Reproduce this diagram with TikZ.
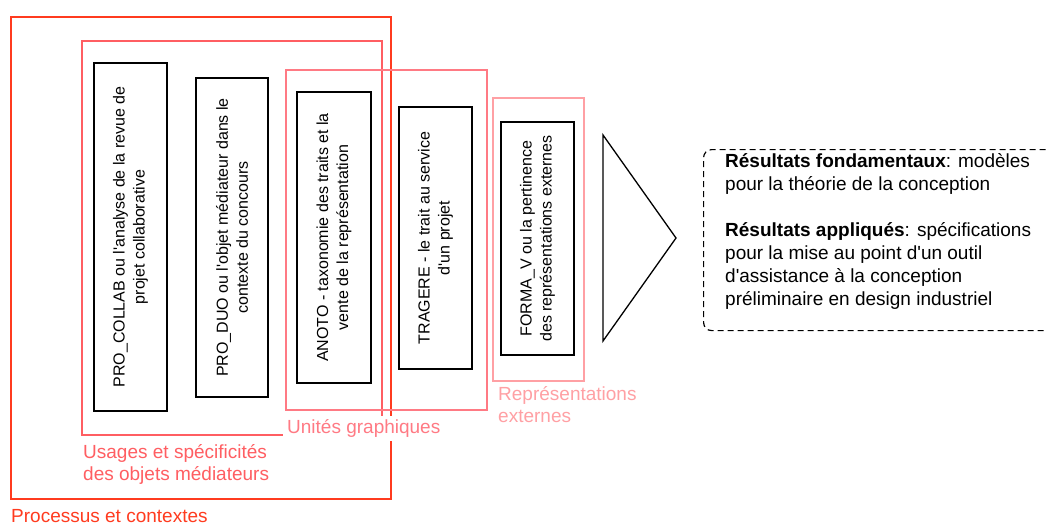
\documentclass[tikz,border=0pt]{standalone}
\usepackage{fontspec}
\setmainfont{Liberation Sans}
\usepackage{array}
\newcommand{\ap}{\textquotesingle}
\definecolor{procred}{HTML}{FF3B1F}
\definecolor{usared}{HTML}{FF5E62}
\definecolor{unitred}{HTML}{FF7A84}
\definecolor{reprred}{HTML}{FFA0A4}
\tikzset{
  zone/.style={draw, line width=1.5pt},
  zonelabel/.style={anchor=base west, fill=white, inner xsep=4pt, inner ysep=1.5pt,
    font=\fontsize{19}{22}\selectfont},
  projbox/.style={draw=black, line width=1.8pt, rotate=90, align=center,
    font=\fontsize{16}{20}\selectfont, inner sep=0pt},
  resbox/.style={draw=black, line width=1.2pt, dash pattern=on 6pt off 4pt,
    rounded corners=8pt, anchor=north west},
  restext/.style={anchor=base west, inner sep=0pt, font=\fontsize{19}{23}\selectfont}
}
\begin{document}
\begin{tikzpicture}[x=1pt,y=-1pt]
\useasboundingbox (0,0) rectangle (1047,525);
\clip (0,0) rectangle (1047,525);

% nested research areas
\draw[zone, procred] (11,17) rectangle (391,499);
\draw[zone, usared]  (82,41) rectangle (382,435);
\draw[zone, unitred] (286,70) rectangle (487,410);
\draw[zone, reprred] (493,98) rectangle (584,381);

% projects
\node[projbox, minimum width=348pt, minimum height=73pt] (collab) at (130.5,237)
  {PRO\_COLLAB ou l\ap analyse de la revue de\\projet collaborative};
\node[projbox, minimum width=319pt, minimum height=72pt] (duo) at (232,237.5)
  {PRO\_DUO ou l\ap objet médiateur dans le\\contexte du concours};
\node[projbox, minimum width=291pt, minimum height=74pt] (anoto) at (334,237.5)
  {ANOTO - taxonomie des traits et la\\vente de la représentation};
\node[projbox, minimum width=262pt, minimum height=73pt] (tragere) at (435.5,238)
  {TRAGERE - le trait au service\\d\ap un projet};
\node[projbox, minimum width=233pt, minimum height=73pt] (formav) at (537.5,238.5)
  {FORMA\_V ou la pertinence\\des représentations externes};

% zone labels
\node[zonelabel, text=procred] (lproc) at (7,522)
  {\begin{tabular}[t]{@{}l@{}}Processus et contextes\end{tabular}};
\node[zonelabel, text=usared] (lusa) at (79,458)
  {\begin{tabular}[t]{@{}l@{}}Usages et spécificités\\des objets médiateurs\end{tabular}};
\node[zonelabel, text=unitred] (lunit) at (283,433)
  {\begin{tabular}[t]{@{}l@{}}Unités graphiques\end{tabular}};
\node[zonelabel, text=reprred] (lrepr) at (494,400)
  {\begin{tabular}[t]{@{}l@{}}Représentations\\externes\end{tabular}};

% arrow head towards results
\coordinate (tritop) at (603,135);
\coordinate (tritip) at (676,238);
\coordinate (tribot) at (603,341);
\draw[line width=1.3pt, line join=miter] (tritop) -- (tritip) -- (tribot) -- cycle;

% results
\node[resbox, minimum width=370pt, minimum height=181pt] (res) at (703,149) {};
\node[restext] (restxt) at (725,167)
  {\begin{tabular}[t]{@{}l@{}}
   \textbf{Résultats fondamentaux}: modèles\\
   pour la théorie de la conception\\
   \\
   \textbf{Résultats appliqués}: spécifications\\
   pour la mise au point d\ap un outil\\
   d\ap assistance à la conception\\
   préliminaire en design industriel
   \end{tabular}};
\end{tikzpicture}
\end{document}
